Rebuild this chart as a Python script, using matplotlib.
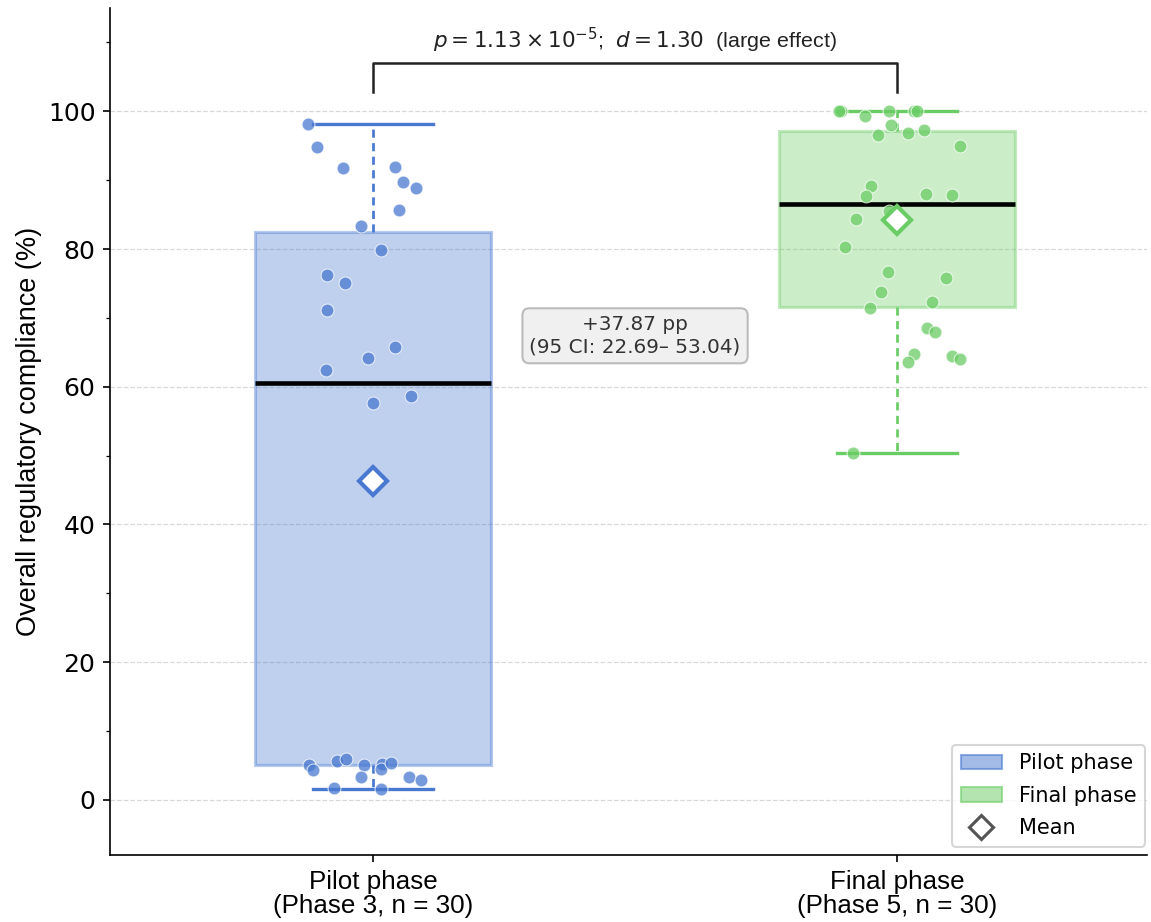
import matplotlib
matplotlib.use("Agg")
import matplotlib.pyplot as plt
from matplotlib.colors import to_rgba
from matplotlib.patches import Patch
from matplotlib.lines import Line2D
from matplotlib.ticker import AutoMinorLocator

# data
groups = ["Pilot phase\n(Phase 3, n = 30)", "Final phase\n(Phase 5, n = 30)"]
legend_names = ["Pilot phase", "Final phase"]
colors = ["#4878d0", "#6acc64"]

pilot_vals = [98.1, 94.8, 91.7, 91.9, 89.7, 88.9, 85.6, 83.3, 79.9, 76.2,
              75.1, 71.2, 65.7, 64.2, 62.4, 57.6, 58.6,
              5.0, 4.3, 5.7, 6.0, 5.0, 3.3, 5.2, 4.5, 5.4, 3.3, 2.95, 1.7, 1.55]
pilot_jit = [-0.124, -0.107, -0.057, 0.042, 0.057, 0.082, 0.050, -0.023, 0.015, -0.088,
             -0.053, -0.088, 0.042, -0.010, -0.090, 0.000, 0.073,
             -0.122, -0.115, -0.069, -0.052, -0.017, -0.023, 0.017, 0.015, 0.034, 0.069, 0.092, -0.074, 0.015]

final_vals = [100, 100, 99.3, 100, 100, 100, 98.0, 96.5, 96.9, 97.3,
              95.0, 89.2, 87.7, 88.0, 87.9, 85.5, 84.3, 80.3, 76.7, 75.8,
              73.7, 72.3, 71.4, 68.6, 68.0, 64.8, 63.6, 64.4, 64.1, 50.4]
final_jit = [-0.106, -0.110, -0.061, -0.015, 0.032, 0.038, -0.011, -0.037, 0.020, 0.051,
             0.121, -0.050, -0.059, 0.056, 0.105, -0.015, -0.078, -0.099, -0.018, 0.093,
             -0.031, 0.067, -0.052, 0.057, 0.072, 0.032, 0.021, 0.105, 0.120, -0.084]

mean_vals = [46.3, 84.2]
p_text = r"$p = 1.13 \times 10^{-5}$;  $d = 1.30$  (large effect)"
diff_text = "+37.87 pp\n(95 CI: 22.69– 53.04)"

data = [pilot_vals, final_vals]
jitters = [pilot_jit, final_jit]
pos = [0, 1]

# no narrow Arial here, the metric-compatible Liberation Sans is the closest
narrow = ["Liberation Sans", "DejaVu Sans"]

fig = plt.figure(figsize=(1151 / 150, 922 / 150), dpi=150)
ax = fig.add_axes([0.0956, 0.0727, 0.9009, 0.9186])

bp = ax.boxplot(data, positions=pos, widths=0.45, patch_artist=True,
                showfliers=False, whis=(0, 100), capwidths=0.23, zorder=2)
for i, c in enumerate(colors):
    bp["boxes"][i].set_facecolor(to_rgba(c, 0.35))
    bp["boxes"][i].set_edgecolor(to_rgba(c, 0.4))
    bp["boxes"][i].set_linewidth(1.5)
    bp["medians"][i].set_color("black")
    bp["medians"][i].set_linewidth(2.2)
    for w in bp["whiskers"][2 * i:2 * i + 2]:
        w.set_color(c)
        w.set_linewidth(1.3)
        w.set_linestyle((0, (3.0, 2.0)))
    for cap in bp["caps"][2 * i:2 * i + 2]:
        cap.set_color(c)
        cap.set_linewidth(1.6)

for i, c in enumerate(colors):
    xs = [pos[i] + j for j in jitters[i]]
    ax.scatter(xs, data[i], s=38, color=c, alpha=0.75, edgecolor="white",
               linewidth=0.5, zorder=3)
    ax.plot(pos[i], mean_vals[i], marker="D", markersize=9.5, markerfacecolor="white",
            markeredgecolor=c, markeredgewidth=2.0, zorder=4)

# significance bracket
ax.plot([0, 0, 1, 1], [102.8, 107, 107, 102.8], color="#222222", lw=1.2, zorder=4)
ax.text(0.5, 108.2, p_text, ha="center", va="bottom", fontsize=10.3, family=narrow, color="#222222")

ax.text(0.5, 67.4, diff_text, ha="center", va="center", fontsize=9.6, color="#333333",
        bbox=dict(boxstyle="round,pad=0.35", facecolor="#f0f0f0", edgecolor="#bbbbbb", lw=1.0))

ax.set_xlim(-0.502, 1.477)
ax.set_ylim(-8, 115)
ax.set_xticks(pos)
ax.set_xticklabels(groups, family=narrow, fontsize=12.5, linespacing=1.0)
ax.set_yticks([0, 20, 40, 60, 80, 100])
ax.yaxis.set_minor_locator(AutoMinorLocator(2))
ax.tick_params(axis="y", labelsize=12)
ax.set_ylabel("Overall regulatory compliance (%)", family=narrow, fontsize=13, labelpad=3)
ax.grid(axis="y", linestyle="--", color="#d0d0d0", lw=0.6, alpha=0.8)
ax.set_axisbelow(True)
ax.spines["top"].set_visible(False)
ax.spines["right"].set_visible(False)

handles = [Patch(facecolor=to_rgba(colors[0], 0.5), edgecolor=to_rgba(colors[0], 0.6), label=legend_names[0]),
           Patch(facecolor=to_rgba(colors[1], 0.5), edgecolor=to_rgba(colors[1], 0.6), label=legend_names[1]),
           Line2D([], [], marker="D", ls="none", markersize=8, markerfacecolor="white",
                  markeredgecolor="#555555", markeredgewidth=1.5, label="Mean")]
ax.legend(handles=handles, loc="lower right", bbox_to_anchor=(0.998, 0.01), borderaxespad=0,
          fontsize=10, labelspacing=0.6)

fig.savefig("out.png", dpi=150)
